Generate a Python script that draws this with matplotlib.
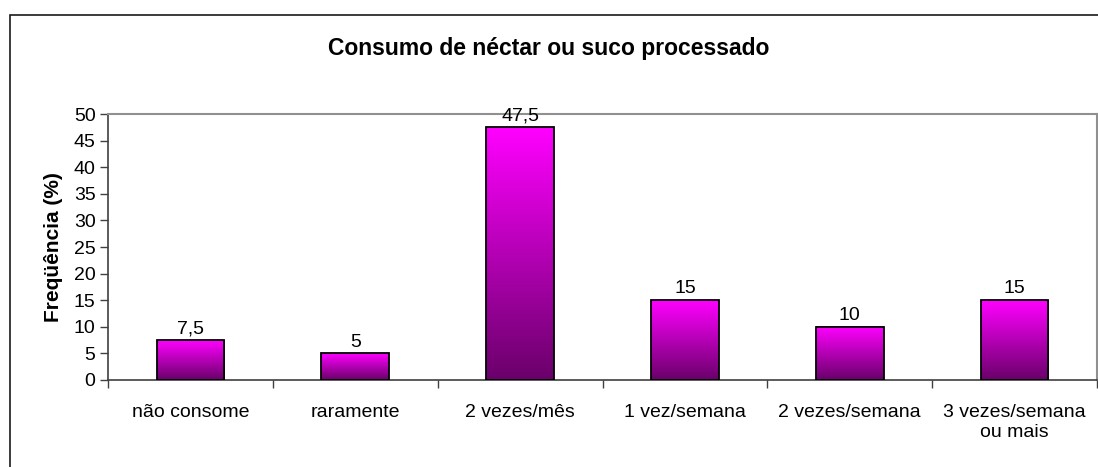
import matplotlib
matplotlib.use("Agg")
import matplotlib.pyplot as plt
from matplotlib.patches import Rectangle
from matplotlib.colors import LinearSegmentedColormap
import numpy as np

## data ##

categorias = ['não consome', 'raramente', '2 vezes/mês', '1 vez/semana',
              '2 vezes/semana', '3 vezes/semana\nou mais']
frequencia = [7.5, 5, 47.5, 15, 10, 15]
rotulos = ['7,5', '5', '47,5', '15', '10', '15']

plt.rcParams['font.family'] = ['Liberation Sans', 'DejaVu Sans']

fig = plt.figure(figsize=(10.98, 4.67), dpi=100)
fig.patch.set_facecolor('white')

## outer chart border ##
fig.patches.append(Rectangle((10 / 1098, -0.05), 1.2, 1 - 14.5 / 467 + 0.05,
                             transform=fig.transFigure, fill=False,
                             edgecolor='#1a1a1a', linewidth=1.2))

ax = fig.add_axes([108 / 1098, 1 - 380 / 467, 989 / 1098, (380 - 114) / 467])

n = len(categorias)

cmap = LinearSegmentedColormap.from_list('mag', ['#6a006a', '#ff00ff'])
grad = np.linspace(0, 1, 256).reshape(-1, 1)

bw = 0.41
for i, v in enumerate(frequencia):
    x0 = i + 0.5 - bw / 2
    ax.imshow(grad, cmap=cmap, origin='lower', aspect='auto',
              extent=(x0, x0 + bw, 0, v), zorder=2, interpolation='bilinear')
    ax.add_patch(Rectangle((x0, 0), bw, v, fill=False, edgecolor='black',
                           linewidth=1.3, zorder=3))
    ax.annotate(rotulos[i], (i + 0.5, v), xytext=(0, 2), textcoords='offset points',
                ha='center', va='bottom', fontsize=14, zorder=4)

ax.set_xlim(0, n)
ax.set_ylim(0, 50)

ax.set_yticks(range(0, 51, 5))
ax.tick_params(axis='y', labelsize=14, length=6, width=1, color='#404040', pad=3)
ax.set_xticks(range(0, n + 1))
ax.set_xticklabels([])
ax.set_xticks([i + 0.5 for i in range(n)], minor=True)
ax.set_xticklabels(categorias, minor=True, fontsize=14, linespacing=1.25)
ax.tick_params(axis='x', which='major', length=6, width=1, color='#404040', direction='out')
ax.tick_params(axis='x', which='minor', length=0, pad=17)

for s in ['left', 'bottom']:
    ax.spines[s].set_color('#404040')
    ax.spines[s].set_linewidth(1.2)
for s in ['top', 'right']:
    ax.spines[s].set_color('#909090')
    ax.spines[s].set_linewidth(1.5)

ax.set_ylabel('Freqüência (%)', fontsize=15, fontweight='bold', labelpad=8)

fig.text(0.5, 1 - 49 / 467, 'Consumo de néctar ou suco processado', ha='center',
         va='center', fontsize=16.5, fontweight='bold')

fig.savefig('out.png', dpi=100)
